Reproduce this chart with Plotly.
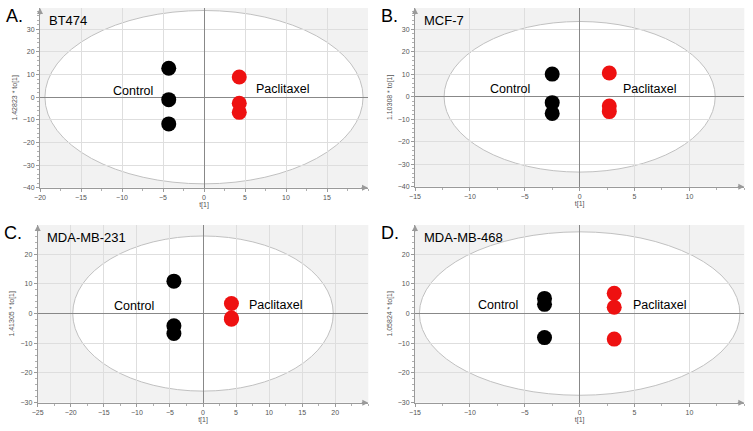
import plotly.graph_objects as go

FONT = "Liberation Sans"

panel_letters = ["A.", "B.", "C.", "D."]
cell_lines = ["BT474", "MCF-7", "MDA-MB-231", "MDA-MB-468"]
y_titles = ["1.42823 * to[1]", "1.10308 * to[1]", "1.41305 * to[1]", "1.05824 * to[1]"]
group_names = ["Control", "Paclitaxel"]

control_t1 = [[-4.3, -4.3, -4.3], [-2.5, -2.5, -2.5], [-4.4, -4.4, -4.4], [-3.2, -3.2, -3.2]]
control_to1 = [[12.8, -1.1, -11.8], [10.1, -2.6, -7.4], [10.9, -4.1, -6.7], [5.1, 3.1, -8.1]]
pacli_t1 = [[4.3, 4.3, 4.3], [2.7, 2.7, 2.7], [4.3, 4.3, 4.3], [3.15, 3.15, 3.15]]
pacli_to1 = [[8.9, -2.7, -6.7], [10.6, -4.1, -6.6], [3.4, -1.9, -1.5], [6.8, 2.1, -8.6]]

ellipse_rx = [19.4, 12.35, 19.7, 14.6]
ellipse_ry = [38.3, 33.5, 26.1, 27.5]

x_ranges = [[-20, 20], [-15, 15], [-25, 25], [-15, 15]]
y_ranges = [[-40, 39.4], [-40, 39.5], [-30, 29.8], [-30, 29.8]]
x_tickvals = [[-20, -15, -10, -5, 0, 5, 10, 15],
              [-15, -10, -5, 0, 5, 10],
              [-25, -20, -15, -10, -5, 0, 5, 10, 15, 20],
              [-15, -10, -5, 0, 5, 10]]
y_tickvals = [[-40, -30, -20, -10, 0, 10, 20, 30],
              [-40, -30, -20, -10, 0, 10, 20, 30],
              [-30, -20, -10, 0, 10, 20],
              [-30, -20, -10, 0, 10, 20]]

control_label_pos = [[-8.7, 2.7], [-6.3, 3.3], [-10.4, 2.6], [-7.4, 2.9]]
pacli_label_pos = [[9.6, 3.6], [6.4, 3.3], [11.0, 2.9], [7.3, 2.9]]

W, H = 753, 431
# pixel boxes: left, right, top, bottom
boxes = [
    (40, 368, 8, 187.7),
    (415, 744.3, 8, 186.7),
    (37.7, 368.3, 225, 402.7),
    (415, 744.3, 225, 402.7),
]

fig = go.Figure()
shapes = []
annotations = []
layout = {}

for i in range(4):
    n = "" if i == 0 else str(i + 1)
    xa, ya = "x" + n, "y" + n
    l, r, t, b = boxes[i]
    layout["xaxis" + n] = dict(
        domain=[l / W, r / W], range=x_ranges[i], anchor=ya, automargin=False,
        tickmode="array", tickvals=x_tickvals[i],
        showgrid=True, gridcolor="#dedede", gridwidth=1,
        zeroline=True, zerolinecolor="#888888", zerolinewidth=1,
        showline=True, linecolor="#9a9a9a", linewidth=1,
        ticks="outside", ticklen=3, tickcolor="#9a9a9a",
        minor=dict(dtick=2.5, tick0=0, ticks="outside", ticklen=2, tickcolor="#b0b0b0", showgrid=False),
        tickfont=dict(family=FONT, size=7, color="#555555"),
        title=dict(text="t[1]", font=dict(family=FONT, size=7, color="#555555"), standoff=2),
        fixedrange=True,
    )
    layout["yaxis" + n] = dict(
        domain=[1 - b / H, 1 - t / H], range=y_ranges[i], anchor=xa, automargin=False,
        tickmode="array", tickvals=y_tickvals[i],
        showgrid=True, gridcolor="#dedede", gridwidth=1,
        zeroline=True, zerolinecolor="#888888", zerolinewidth=1,
        showline=True, linecolor="#9a9a9a", linewidth=1,
        ticks="outside", ticklen=3, tickcolor="#9a9a9a",
        minor=dict(dtick=2, tick0=0, ticks="outside", ticklen=2, tickcolor="#b0b0b0", showgrid=False),
        tickfont=dict(family=FONT, size=7, color="#555555"),
        title=dict(text=y_titles[i], font=dict(family=FONT, size=7, color="#555555"), standoff=4),
        fixedrange=True,
    )
    # ellipse (Hotelling T2) filled white
    rx, ry = ellipse_rx[i], ellipse_ry[i]
    shapes.append(dict(type="circle", xref=xa, yref=ya, x0=-rx, x1=rx, y0=-ry, y1=ry,
                       fillcolor="white", line=dict(color="#c0c0c0", width=1), layer="below"))
    fig.add_trace(go.Scatter(x=control_t1[i], y=control_to1[i], mode="markers", xaxis=xa, yaxis=ya,
                             marker=dict(color="black", size=15, line=dict(width=0)),
                             showlegend=False, name=group_names[0]))
    fig.add_trace(go.Scatter(x=pacli_t1[i], y=pacli_to1[i], mode="markers", xaxis=xa, yaxis=ya,
                             marker=dict(color="#ee1111", size=15, line=dict(width=0)),
                             showlegend=False, name=group_names[1]))
    annotations.append(dict(x=control_label_pos[i][0], y=control_label_pos[i][1], xref=xa, yref=ya,
                            text=group_names[0], showarrow=False,
                            font=dict(family=FONT, size=12.5, color="black")))
    annotations.append(dict(x=pacli_label_pos[i][0], y=pacli_label_pos[i][1], xref=xa, yref=ya,
                            text=group_names[1], showarrow=False,
                            font=dict(family=FONT, size=12.5, color="black")))
    # panel letter
    annotations.append(dict(x=(l - 36) / W, y=1 - (t - 4) / H, xref="paper", yref="paper",
                            text=panel_letters[i], showarrow=False, xanchor="left", yanchor="top",
                            font=dict(family=FONT, size=18, color="black")))
    # cell line name
    annotations.append(dict(x=(l + 7) / W, y=1 - (t + 3) / H, xref="paper", yref="paper",
                            text=cell_lines[i], showarrow=False, xanchor="left", yanchor="top",
                            font=dict(family=FONT, size=13, color="black")))
    # axis arrows
    annotations.append(dict(x=x_ranges[i][1], y=y_ranges[i][0], xref=xa, yref=ya, ax=-8, ay=0,
                            showarrow=True, arrowhead=2, arrowsize=1, arrowwidth=1.2,
                            arrowcolor="#9a9a9a", text=""))
    annotations.append(dict(x=x_ranges[i][0], y=y_ranges[i][1], xref=xa, yref=ya, ax=0, ay=8,
                            showarrow=True, arrowhead=2, arrowsize=1, arrowwidth=1.2,
                            arrowcolor="#9a9a9a", text=""))

fig.update_layout(
    width=W, height=H,
    margin=dict(l=0, r=0, t=0, b=0),
    paper_bgcolor="white", plot_bgcolor="#f2f2f2",
    shapes=shapes, annotations=annotations,
    hovermode=False,
    **layout,
)
fig.write_html("out.html", config={"displayModeBar": False, "staticPlot": True},
               post_script="document.body.style.margin='0px';document.body.style.padding='0px';")
